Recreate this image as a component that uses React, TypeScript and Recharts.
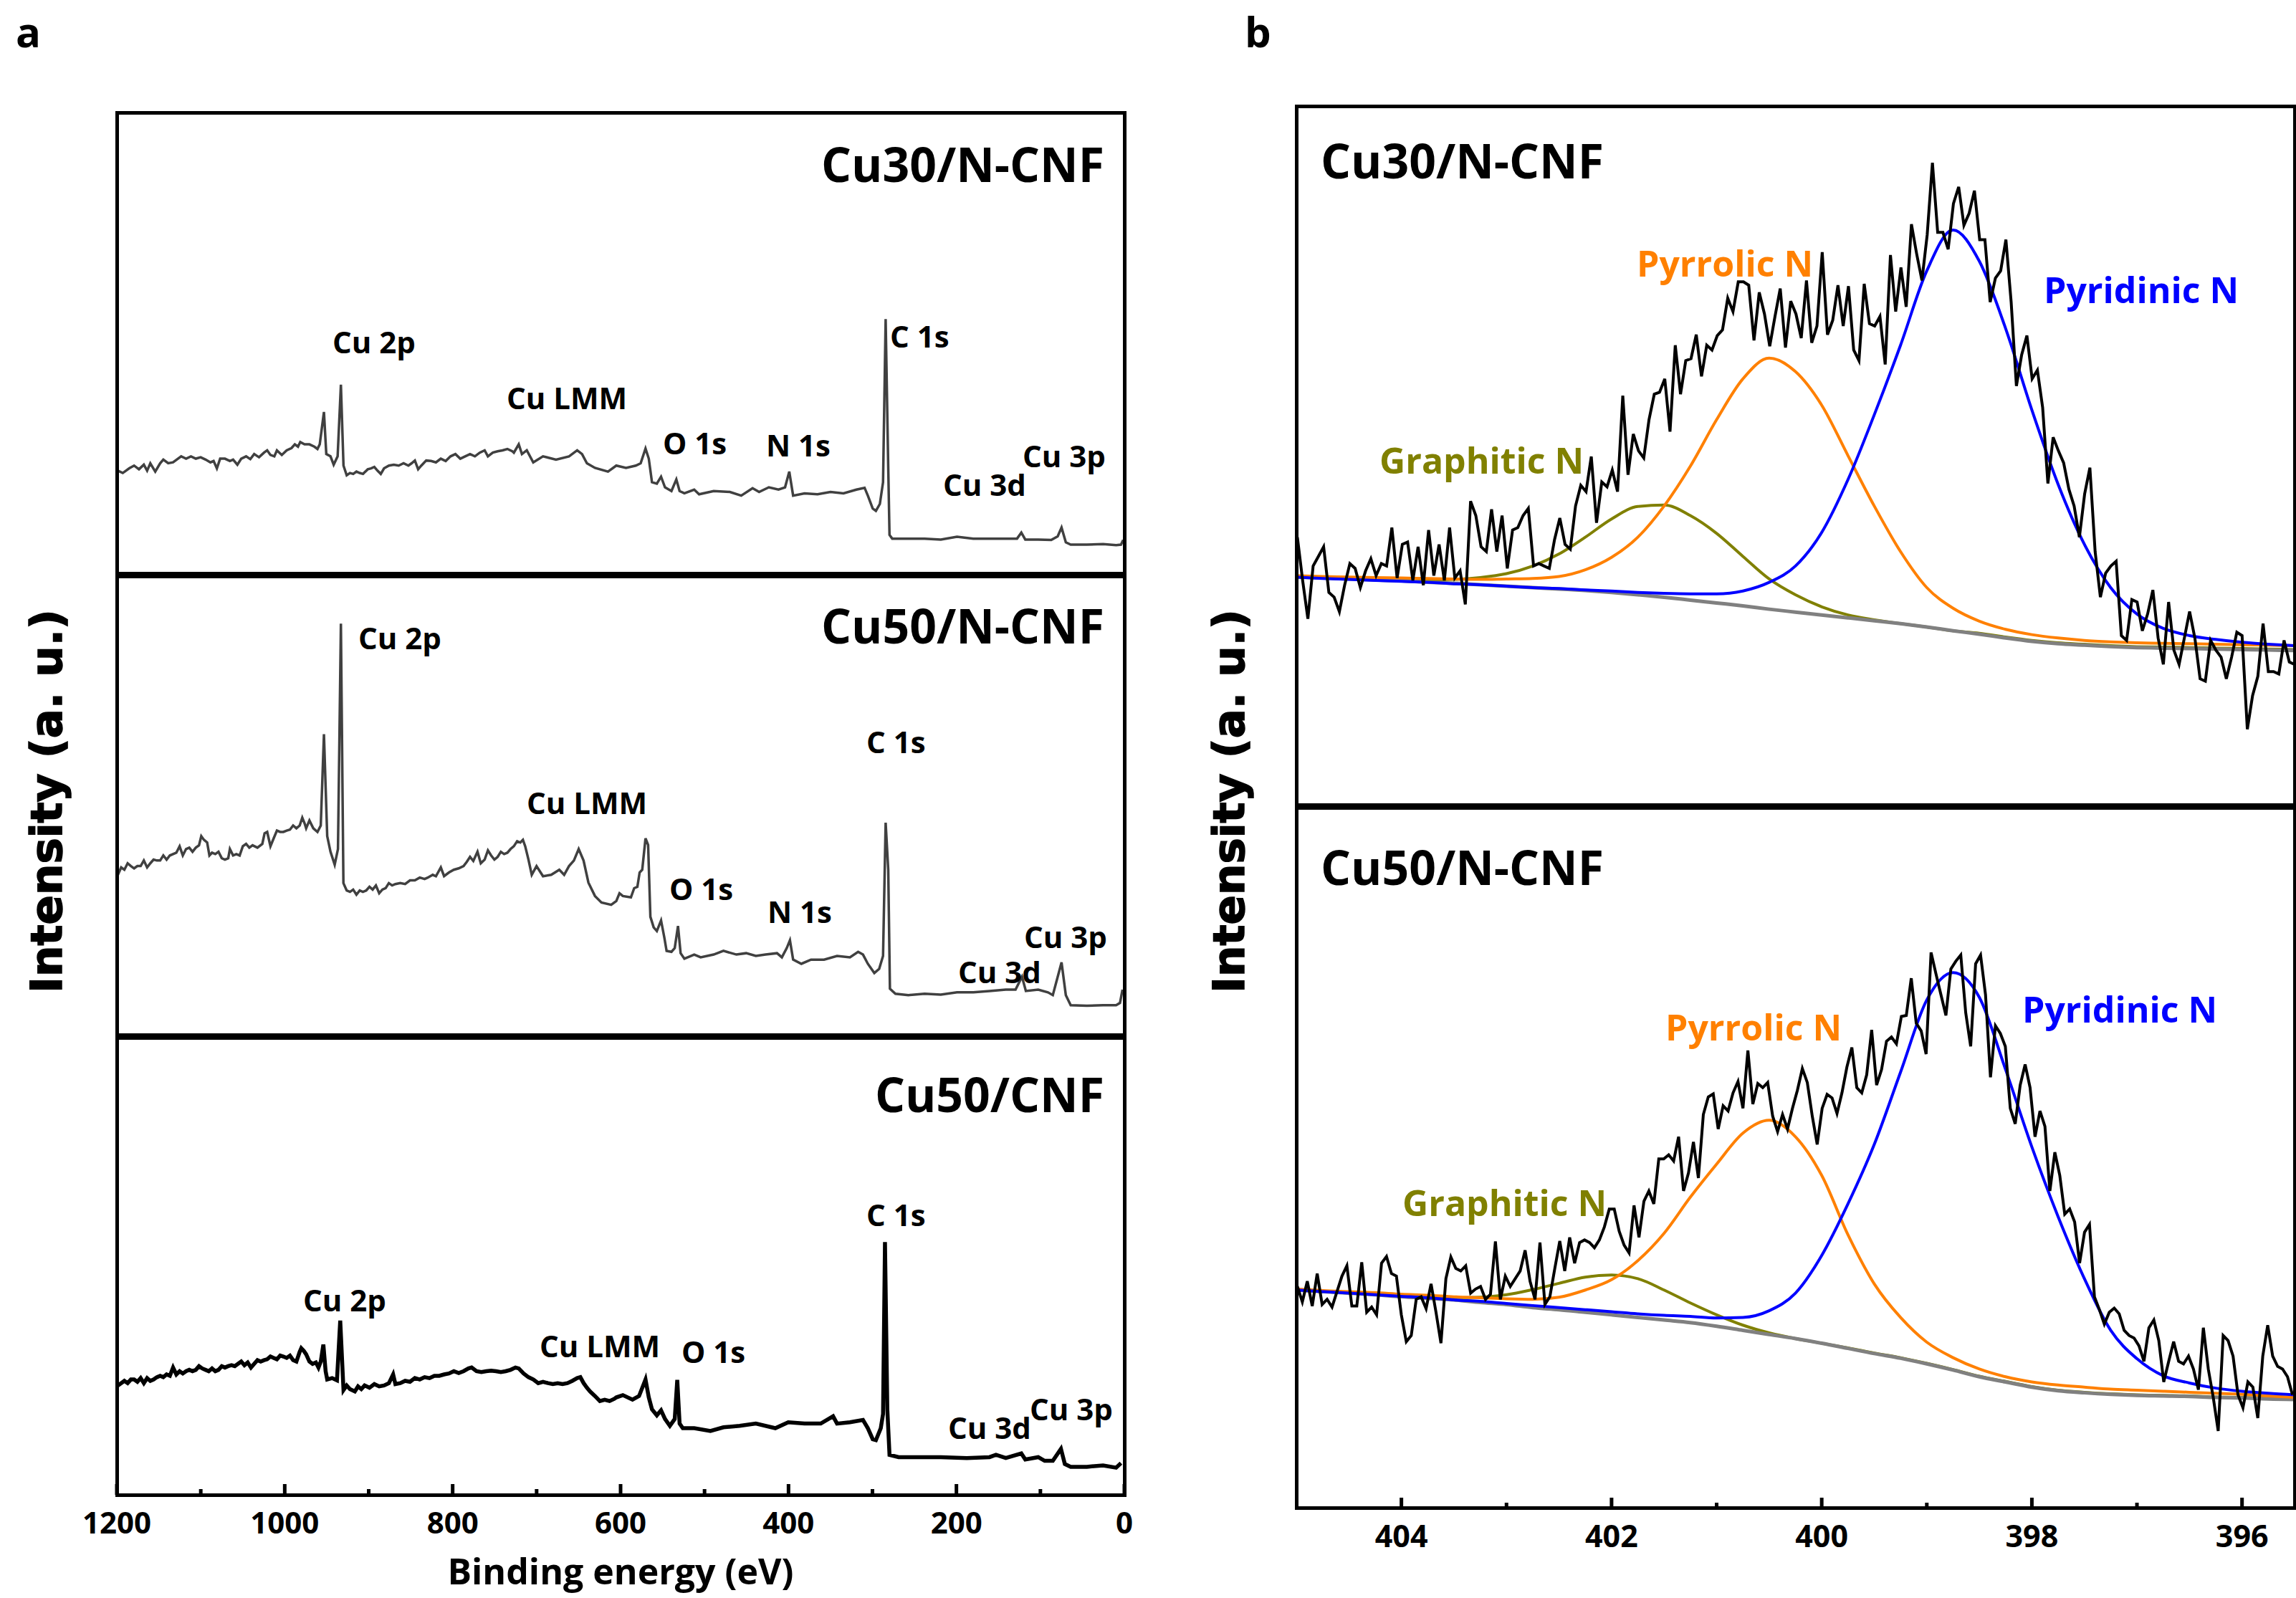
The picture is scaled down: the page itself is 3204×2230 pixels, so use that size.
import React from 'react';
import { LineChart, Line, XAxis, YAxis } from 'recharts';

const SANS = '"Open Sans", "Noto Sans", sans-serif';
const HEAVY = '"DejaVu Sans", sans-serif';

// ---------- panel a : XPS survey spectra, [binding energy (eV), intensity (a.u.)]
const CU30_NCNF_SURVEY: [number, number][] = [
  [1198.7, 22.5], [1192.9, 22.0], [1185.2, 23.0], [1179.4, 23.6], [1173.6, 22.8], [1167.8, 23.8], [1163.9, 22.5],
  [1160.1, 24.1], [1154.2, 22.3], [1148.4, 24.1], [1144.6, 24.9], [1138.8, 24.1], [1133.0, 24.3], [1127.2, 25.1],
  [1123.3, 25.6], [1117.5, 25.1], [1111.7, 25.6], [1105.9, 25.1], [1100.1, 25.4], [1094.3, 24.9], [1088.5, 24.3],
  [1084.7, 24.6], [1080.8, 23.0], [1076.9, 25.1], [1071.2, 25.1], [1065.3, 24.6], [1061.5, 24.9], [1056.4, 23.8],
  [1051.8, 25.1], [1046.0, 25.6], [1041.0, 25.0], [1036.4, 26.1], [1030.6, 25.4], [1024.7, 26.4], [1020.9, 26.9],
  [1017.0, 25.9], [1012.4, 25.6], [1009.3, 26.9], [1003.5, 25.9], [997.7, 26.9], [991.9, 27.4], [988.0, 28.2],
  [984.2, 27.7], [981.5, 28.7], [976.4, 28.2], [970.6, 28.2], [964.8, 27.7], [961.0, 27.2], [958.3, 28.2],
  [953.3, 35.2], [950.5, 26.1], [945.5, 25.6], [941.7, 23.8], [937.0, 25.6], [933.1, 41.1], [930.0, 23.6],
  [926.2, 21.5], [922.3, 22.0], [918.4, 21.8], [914.6, 22.3], [910.7, 22.0], [906.8, 21.8], [901.1, 22.8],
  [897.2, 23.0], [893.3, 23.3], [889.5, 22.5], [885.6, 21.8], [881.7, 23.0], [875.9, 23.6], [870.1, 23.8],
  [864.3, 23.6], [858.5, 24.1], [852.7, 23.6], [848.9, 24.1], [845.0, 24.7], [841.1, 22.8], [837.3, 23.6],
  [831.5, 24.7], [825.7, 24.6], [819.9, 24.3], [814.1, 25.1], [808.3, 24.6], [802.5, 25.6], [796.7, 26.1],
  [790.9, 25.1], [785.1, 25.6], [779.3, 26.1], [773.5, 25.6], [767.7, 26.4], [761.9, 26.9], [758.0, 25.6],
  [752.2, 26.4], [746.4, 26.7], [740.6, 26.9], [734.8, 27.2], [729.0, 26.7], [727.1, 26.4], [721.3, 28.2],
  [717.5, 26.1], [711.7, 26.9], [704.0, 24.3], [692.4, 25.6], [676.9, 24.9], [661.4, 25.6], [651.7, 26.9],
  [645.9, 26.1], [640.1, 24.1], [630.5, 23.1], [615.0, 22.3], [605.1, 23.6], [593.5, 23.1], [581.9, 23.6],
  [576.1, 24.1], [570.3, 27.3], [566.4, 25.1], [562.6, 20.0], [556.8, 19.7], [551.8, 21.2], [547.1, 18.9],
  [539.4, 18.1], [533.6, 20.6], [529.7, 18.1], [524.0, 17.6], [512.3, 18.4], [506.5, 17.4], [489.1, 18.1],
  [469.8, 17.9], [456.3, 17.1], [442.8, 18.7], [435.0, 17.9], [423.4, 18.9], [411.9, 18.4], [404.1, 18.9],
  [399.1, 22.3], [394.5, 17.1], [380.9, 17.6], [365.4, 17.4], [350.0, 17.9], [334.5, 17.6], [319.1, 18.4],
  [309.4, 18.8], [305.5, 17.1], [299.7, 14.3], [295.9, 13.8], [291.2, 15.3], [287.4, 20.0], [284.3, 55.3],
  [281.2, 23.1], [279.7, 8.6], [276.5, 7.8], [257.2, 7.8], [237.9, 7.8], [218.6, 7.6], [199.3, 8.2],
  [179.9, 7.8], [160.6, 7.8], [141.2, 7.8], [127.8, 7.8], [122.7, 9.1], [118.0, 7.6], [102.6, 7.6],
  [87.1, 7.5], [79.4, 8.3], [74.8, 10.2], [69.7, 7.0], [63.9, 6.5], [44.6, 6.5], [25.3, 6.6], [9.8, 6.4],
  [4.0, 6.5], [1.4, 7.5],
];

const CU50_NCNF_SURVEY: [number, number][] = [
  [1198.7, 34.9], [1194.8, 36.5], [1191.0, 36.0], [1187.1, 37.4], [1183.2, 36.8], [1179.4, 36.3], [1175.5, 36.8],
  [1171.6, 36.8], [1167.8, 38.0], [1163.9, 36.5], [1160.1, 37.4], [1156.2, 38.2], [1152.3, 38.0], [1148.4, 38.0],
  [1144.6, 39.1], [1140.7, 38.2], [1136.8, 39.1], [1133.0, 39.4], [1129.1, 39.7], [1125.2, 41.1], [1121.4, 39.1],
  [1117.5, 40.5], [1113.7, 40.8], [1109.8, 39.9], [1105.9, 40.8], [1102.1, 41.3], [1099.4, 43.3], [1096.3, 42.5],
  [1092.4, 41.9], [1089.7, 39.1], [1086.6, 39.7], [1082.7, 39.4], [1078.9, 39.9], [1075.0, 38.5], [1071.2, 38.2],
  [1067.3, 38.5], [1065.3, 40.5], [1061.5, 39.1], [1057.6, 39.4], [1053.7, 39.1], [1049.9, 41.1], [1046.0, 41.6],
  [1042.2, 40.8], [1038.3, 41.3], [1032.5, 40.8], [1026.7, 41.6], [1024.0, 43.9], [1020.9, 44.2], [1017.0, 41.1],
  [1013.2, 42.8], [1009.3, 44.5], [1005.4, 44.2], [1001.6, 44.2], [997.7, 44.5], [993.8, 44.7], [990.0, 45.6],
  [986.1, 45.0], [982.2, 45.6], [979.1, 47.3], [976.4, 46.1], [974.5, 45.0], [970.6, 46.7], [966.0, 45.0],
  [961.0, 44.2], [957.1, 45.6], [953.3, 65.4], [949.4, 43.3], [945.5, 39.9], [940.5, 37.1], [936.6, 40.5],
  [933.1, 89.4], [930.1, 33.1], [926.2, 31.5], [922.3, 31.2], [918.5, 31.7], [914.6, 30.6], [910.7, 31.5],
  [906.9, 31.2], [903.0, 31.5], [899.1, 32.3], [895.3, 31.7], [891.4, 32.6], [887.5, 30.9], [883.7, 31.7],
  [879.8, 32.0], [876.0, 33.1], [872.1, 32.6], [868.2, 32.9], [862.4, 33.1], [856.6, 32.9], [850.8, 33.7],
  [845.0, 33.7], [839.2, 34.3], [833.4, 34.0], [829.6, 34.3], [823.7, 34.9], [819.9, 34.6], [814.1, 36.5],
  [810.2, 34.6], [804.4, 35.4], [798.6, 36.0], [792.8, 36.3], [787.0, 36.8], [783.2, 37.7], [779.3, 38.8],
  [775.4, 37.9], [770.4, 39.9], [766.5, 37.4], [761.9, 38.2], [758.0, 40.2], [754.2, 39.1], [750.3, 38.2],
  [746.4, 38.8], [742.6, 39.9], [738.7, 39.4], [734.8, 39.7], [731.0, 40.5], [727.1, 41.1], [723.2, 42.2],
  [719.4, 41.9], [716.3, 42.5], [713.6, 41.1], [709.7, 38.2], [705.8, 34.9], [700.1, 36.8], [692.4, 34.6],
  [682.6, 34.9], [673.0, 36.0], [667.2, 34.9], [661.4, 36.8], [655.6, 38.0], [649.9, 40.5], [644.1, 38.0],
  [638.3, 33.2], [630.5, 30.3], [622.8, 28.9], [611.2, 28.4], [605.1, 29.2], [601.3, 30.9], [597.3, 30.3],
  [587.7, 30.0], [583.8, 32.0], [580.0, 32.3], [577.3, 35.4], [574.2, 36.0], [570.3, 42.8], [567.2, 41.4],
  [564.5, 25.8], [560.6, 23.5], [556.8, 22.7], [551.8, 25.0], [547.9, 21.3], [545.2, 18.4], [539.4, 18.2],
  [535.5, 19.0], [531.6, 23.8], [528.5, 17.9], [524.0, 16.7], [512.3, 17.6], [504.6, 17.0], [489.1, 17.6],
  [477.5, 18.4], [462.0, 17.6], [450.4, 17.9], [438.9, 17.3], [427.3, 17.6], [413.7, 17.9], [407.9, 17.0],
  [402.1, 19.0], [398.3, 20.7], [394.5, 16.5], [384.7, 15.6], [373.2, 16.5], [357.7, 16.5], [342.2, 17.3],
  [326.8, 17.0], [317.1, 18.2], [311.3, 17.6], [305.5, 15.6], [297.8, 13.6], [292.0, 14.5], [287.4, 17.3],
  [284.3, 46.2], [281.2, 36.0], [279.2, 10.2], [272.7, 9.1], [257.2, 8.8], [237.9, 9.1], [218.6, 8.9],
  [199.3, 9.4], [179.9, 9.4], [160.6, 9.7], [141.2, 10.0], [129.6, 10.0], [121.9, 12.8], [117.3, 9.7],
  [102.6, 10.0], [91.0, 9.4], [85.2, 8.8], [74.8, 15.9], [69.7, 8.8], [63.9, 6.6], [44.6, 6.5], [25.3, 6.6],
  [9.8, 6.6], [5.2, 7.1], [2.2, 10.0],
];

const CU50_CNF_SURVEY: [number, number][] = [
  [1198.7, 23.8], [1194.8, 24.3], [1191.0, 24.8], [1187.1, 24.3], [1183.2, 25.1], [1179.4, 25.1], [1175.5, 24.6],
  [1171.6, 25.4], [1167.8, 24.3], [1163.9, 25.4], [1160.1, 24.8], [1156.2, 25.1], [1152.3, 25.6], [1148.4, 25.9],
  [1144.6, 25.6], [1140.7, 26.2], [1136.8, 25.9], [1133.0, 27.7], [1129.1, 26.2], [1125.2, 26.9], [1121.4, 26.4],
  [1117.5, 26.9], [1113.7, 27.2], [1109.8, 26.9], [1105.9, 27.2], [1102.1, 28.0], [1098.2, 27.5], [1094.3, 27.2],
  [1090.5, 26.9], [1086.6, 27.5], [1082.7, 26.9], [1078.9, 27.2], [1075.0, 28.0], [1071.2, 27.7], [1067.3, 28.0],
  [1063.4, 28.2], [1059.5, 28.0], [1055.7, 28.5], [1051.8, 29.0], [1048.0, 28.2], [1044.1, 28.8], [1040.2, 27.7],
  [1036.4, 28.5], [1032.5, 29.3], [1028.6, 29.0], [1024.7, 29.3], [1020.9, 29.5], [1017.0, 30.1], [1013.2, 29.8],
  [1009.3, 29.5], [1005.4, 30.3], [1001.6, 30.1], [997.7, 29.8], [993.8, 30.3], [990.0, 29.3], [986.1, 29.0],
  [982.2, 31.1], [980.3, 31.9], [977.2, 31.3], [974.5, 30.6], [970.6, 29.0], [966.8, 28.5], [962.9, 28.8],
  [959.8, 27.7], [957.1, 29.0], [954.0, 32.7], [951.3, 26.9], [949.4, 25.1], [943.6, 25.4], [937.8, 24.9],
  [933.9, 37.9], [930.0, 22.8], [926.2, 23.8], [922.3, 23.0], [916.5, 22.5], [912.7, 23.6], [908.8, 23.0],
  [904.9, 23.8], [899.1, 23.3], [893.3, 24.1], [887.5, 23.6], [881.7, 23.8], [875.9, 24.3], [870.9, 26.2],
  [868.2, 24.1], [862.4, 24.3], [856.6, 24.8], [850.8, 24.6], [845.0, 25.4], [839.2, 25.1], [833.4, 25.6],
  [827.6, 25.4], [821.8, 25.9], [816.0, 25.9], [810.2, 26.2], [804.4, 26.4], [798.6, 26.9], [792.8, 26.5],
  [787.0, 26.9], [781.2, 27.5], [777.4, 27.7], [771.6, 26.9], [765.8, 26.7], [760.0, 26.9], [754.2, 27.0],
  [748.4, 26.9], [742.6, 26.7], [736.8, 26.9], [731.0, 27.2], [725.2, 27.7], [721.3, 27.5], [715.5, 26.4],
  [709.7, 25.6], [703.9, 25.1], [698.1, 24.3], [692.3, 24.6], [686.5, 24.3], [680.7, 24.1], [674.9, 24.3],
  [669.1, 24.1], [663.3, 24.3], [657.5, 24.8], [651.7, 25.4], [647.9, 25.6], [644.0, 24.3], [640.1, 23.3],
  [636.3, 22.5], [630.5, 21.5], [624.7, 20.4], [618.9, 20.7], [613.1, 20.4], [607.3, 20.9], [605.1, 21.2],
  [597.3, 21.7], [585.8, 20.7], [578.0, 21.5], [570.3, 25.1], [566.4, 21.2], [562.6, 18.6], [556.8, 17.3],
  [551.8, 18.4], [547.1, 16.5], [541.3, 15.0], [535.5, 16.5], [532.5, 25.0], [529.7, 15.5], [525.9, 14.5],
  [512.3, 14.5], [493.0, 13.9], [477.5, 14.7], [458.2, 15.0], [438.9, 15.5], [415.7, 14.5], [400.3, 15.8],
  [380.9, 15.5], [361.6, 15.5], [346.9, 17.1], [342.2, 15.5], [326.8, 15.8], [311.3, 16.3], [305.5, 14.5],
  [299.7, 12.1], [295.9, 11.9], [290.1, 14.5], [287.4, 17.6], [285.1, 55.0], [282.3, 18.6], [279.7, 8.7],
  [268.8, 8.2], [249.5, 8.2], [218.6, 8.2], [187.7, 8.0], [160.6, 8.2], [152.9, 8.7], [141.2, 8.0],
  [122.7, 9.0], [118.0, 7.7], [102.6, 8.2], [94.9, 7.4], [85.2, 7.4], [75.5, 10.0], [70.9, 6.7], [63.9, 6.1],
  [44.6, 6.1], [25.3, 6.4], [9.8, 5.9], [4.0, 6.9],
];

const SURVEY_TICKS = [1200, 1100, 1000, 900, 800, 700, 600, 500, 400, 300, 200, 100, 0];

// ---------- panel b : N 1s high-resolution spectra
// raw scans, evenly spaced from first to last energy
const CU30_N1S_RANGE: [number, number] = [404.99, 395.5];
const CU30_N1S_RAW = [
  598, 508, 428, 538, 558, 578, 483, 473, 443, 498, 543, 533, 493, 528, 553, 518, 543, 538, 618, 513,
  583, 588, 508, 578, 498, 613, 518, 583, 508, 618, 513, 528, 458, 673, 643, 578, 568, 656, 568, 643,
  533, 613, 618, 643, 658, 538, 543, 538, 533, 593, 638, 583, 573, 663, 706, 693, 766, 628, 713, 703,
  738, 693, 893, 728, 813, 778, 763, 843, 896, 900, 928, 818, 998, 896, 966, 970, 1020, 933, 998, 988,
  1018, 1030, 1096, 1068, 1130, 1130, 1123, 1008, 1108, 1063, 996, 1058, 1116, 993, 1090, 1063, 1013, 1133, 1003, 1038,
  1192, 1020, 1050, 1123, 1038, 1121, 988, 966, 1126, 1043, 1038, 1058, 958, 1186, 1068, 1160, 1078, 1250, 1188, 1133,
  1228, 1378, 1233, 1233, 1198, 1293, 1328, 1248, 1273, 1320, 1218, 1218, 1088, 1138, 1153, 1218, 1088, 913, 978, 1018,
  928, 946, 868, 710, 806, 778, 753, 698, 663, 598, 688, 743, 568, 473, 523, 538, 548, 393, 383, 468,
  463, 403, 438, 488, 388, 333, 463, 363, 333, 388, 443, 388, 303, 298, 383, 363, 348, 303, 348, 400,
  393, 198, 268, 308, 418, 318, 318, 313, 383, 338, 333,
];

const CU50_N1S_RANGE: [number, number] = [404.99, 395.52];
const CU50_N1S_RAW = [
  603, 573, 613, 565, 628, 568, 578, 563, 593, 623, 643, 565, 565, 650, 553, 563, 548, 648, 661, 628,
  623, 548, 496, 508, 578, 583, 560, 608, 553, 493, 618, 660, 638, 633, 643, 590, 598, 603, 578, 588,
  690, 578, 623, 603, 618, 633, 673, 613, 578, 688, 568, 583, 638, 691, 633, 698, 648, 688, 693, 688,
  678, 693, 718, 753, 753, 710, 683, 668, 760, 698, 768, 788, 763, 850, 850, 858, 846, 893, 788, 823,
  883, 813, 936, 970, 976, 908, 953, 943, 978, 1000, 948, 1060, 956, 996, 988, 998, 933, 903, 936, 908,
  948, 983, 1025, 998, 933, 878, 948, 975, 968, 938, 978, 1028, 1066, 988, 978, 1013, 1100, 993, 1023, 1078,
  1086, 1073, 1126, 1128, 1200, 1113, 1098, 1053, 1250, 1208, 1168, 1128, 1218, 1233, 1245, 1133, 1068, 1228, 1245, 1168,
  1008, 1108, 1093, 1068, 948, 918, 993, 1033, 988, 893, 943, 913, 788, 863, 818, 743, 753, 728, 648, 708,
  723, 583, 558, 530, 553, 561, 550, 518, 508, 503, 488, 458, 523, 538, 498, 418, 458, 496, 458, 453,
  468, 443, 403, 523, 443, 388, 323, 508, 498, 468, 393, 368, 418, 408, 348, 468, 528, 468, 448, 443,
  428, 393,
];

// fitted components on a 0.25 eV grid
const FIT_EV = [
  405, 404.75, 404.5, 404.25, 404, 403.75, 403.5, 403.25, 403, 402.75, 402.5, 402.25, 402,
  401.75, 401.5, 401.25, 401, 400.75, 400.5, 400.25, 400, 399.75, 399.5, 399.25, 399, 398.75,
  398.5, 398.25, 398, 397.75, 397.5, 397.25, 397, 396.75, 396.5, 396.25, 396, 395.75, 395.5,
];

const CU30_BACKGROUND = [515, 513, 511, 509, 507, 504, 502, 499, 496, 493, 490, 487, 483, 478, 473, 467, 461, 455, 448, 442, 436, 430, 424, 418, 411, 403, 396, 388, 381, 376, 373, 370, 368, 367, 366, 365, 364, 363, 362];
const CU30_GRAPHITIC = [515, 513, 511, 510, 509, 509, 510, 514, 522, 538, 563, 598, 636, 662, 665, 643, 606, 558, 511, 478, 453, 436, 426, 418, 411, 403, 398, 390, 383, 378, 375, 372, 370, 369, 368, 367, 366, 365, 364];
const CU30_PYRROLIC = [518, 516, 515, 514, 513, 512, 511, 510, 511, 512, 516, 530, 556, 598, 663, 746, 843, 928, 971, 943, 873, 768, 663, 568, 493, 450, 423, 406, 395, 388, 383, 380, 378, 377, 376, 375, 374, 373, 372];
const CU30_PYRIDINIC = [515, 512, 510, 508, 506, 504, 501, 499, 496, 493, 491, 488, 486, 483, 481, 480, 480, 486, 504, 538, 608, 718, 853, 998, 1153, 1238, 1173, 1033, 863, 708, 583, 493, 438, 408, 393, 385, 379, 375, 372];

const CU50_BACKGROUND = [596, 593, 590, 587, 583, 580, 577, 572, 568, 562, 558, 553, 548, 543, 538, 533, 526, 518, 510, 502, 493, 483, 473, 464, 453, 441, 428, 418, 408, 401, 397, 394, 392, 391, 390, 388, 387, 385, 384];
const CU50_GRAPHITIC = [596, 593, 590, 587, 584, 582, 581, 582, 587, 597, 609, 621, 625, 618, 596, 571, 548, 528, 513, 502, 493, 484, 474, 465, 454, 442, 429, 419, 409, 402, 398, 395, 393, 392, 391, 389, 388, 386, 385];
const CU50_PYRROLIC = [598, 595, 593, 591, 588, 586, 583, 581, 579, 578, 582, 596, 616, 653, 706, 776, 840, 900, 925, 893, 818, 703, 608, 543, 495, 465, 443, 428, 418, 412, 408, 404, 402, 400, 398, 396, 394, 391, 388];
const CU50_PYRIDINIC = [596, 593, 590, 587, 584, 581, 577, 574, 570, 566, 562, 558, 554, 550, 547, 545, 542, 543, 556, 590, 663, 763, 878, 1018, 1158, 1211, 1163, 1023, 873, 738, 618, 518, 463, 430, 416, 406, 400, 396, 393];

const N1S_TICKS = [404, 403, 402, 401, 400, 399, 398, 397, 396];

// ---------- helpers
const toPoints = (rows: [number, number][]) => rows.map(([e, v]) => ({ e, v }));
const spread = ([start, end]: [number, number], vals: number[]) =>
  vals.map((v, i) => ({ e: start - (i * (start - end)) / (vals.length - 1), v }));
const onFitGrid = (vals: number[]) => vals.map((v, i) => ({ e: FIT_EV[i], v }));

const FRAME_W = 5;
const PAD = 12;
const PAD_L = 60;
const OLIVE = '#808000';
const ORANGE = '#FF8000';
const BLUE = '#0000FF';
const GRAY = '#808080';

const surveyTick = (props: any) => {
  const { x, y, payload } = props;
  const major = payload.value % 200 === 0;
  return (
    <g>
      <line x1={x} x2={x} y1={y} y2={y - (major ? 15 : 8)} stroke="#000" strokeWidth={5} />
      {major && (
        <text x={x} y={y + 54} textAnchor="middle" fontFamily={SANS} fontWeight={700} fontSize={42} fill="#000">
          {payload.value}
        </text>
      )}
    </g>
  );
};

const n1sTick = (props: any) => {
  const { x, y, payload } = props;
  const major = payload.value % 2 === 0;
  return (
    <g>
      <line x1={x} x2={x} y1={y} y2={y - (major ? 14 : 7)} stroke="#000" strokeWidth={5} />
      {major && (
        <text x={x} y={y + 55} textAnchor="middle" fontFamily={SANS} fontWeight={700} fontSize={43} fill="#000">
          {payload.value}
        </text>
      )}
    </g>
  );
};

// frame box drawn centred on the plot edges
function Frame({ left, top, width, height }: any) {
  return (
    <div
      style={{
        position: 'absolute',
        left: left - FRAME_W / 2,
        top: top - FRAME_W / 2,
        width: width + FRAME_W,
        height: height + FRAME_W,
        boxSizing: 'border-box',
        border: `${FRAME_W}px solid #000`,
        pointerEvents: 'none',
      }}
    />
  );
}

// survey sub-panel (panel a)
const A_LEFT = 163;
const A_WIDTH = 1406;

function SurveyPanel({ rows, top, height, domain, color, strokeWidth, axis }: any) {
  const axisH = axis ? 90 : 0;
  return (
    <>
      <div style={{ position: 'absolute', left: A_LEFT - PAD_L, top: top - PAD }}>
        <LineChart
          width={A_WIDTH + PAD_L + PAD}
          height={height + 2 * PAD + axisH}
          margin={{ top: PAD, right: PAD, bottom: PAD, left: PAD_L }}
        >
          <XAxis
            dataKey="e"
            type="number"
            domain={[0, 1200]}
            reversed
            allowDataOverflow
            height={axisH}
            hide={!axis}
            ticks={SURVEY_TICKS}
            interval={0}
            tickSize={0}
            tickMargin={0}
            tickLine={false}
            axisLine={false}
            tick={surveyTick}
          />
          <YAxis type="number" domain={domain} allowDataOverflow hide />
          <Line data={toPoints(rows)} dataKey="v" type="linear" stroke={color} strokeWidth={strokeWidth}
            dot={false} isAnimationActive={false} />
        </LineChart>
      </div>
      <Frame left={A_LEFT} top={top} width={A_WIDTH} height={height} />
    </>
  );
}

// N 1s sub-panel (panel b)
const B_LEFT = 1809;
const B_WIDTH = 1393;

function N1sPanel({ raw, bg, graphitic, pyrrolic, pyridinic, top, height, domain, axis }: any) {
  const axisH = axis ? 90 : 0;
  const series = [
    { d: graphitic, c: OLIVE, w: 4 },
    { d: bg, c: GRAY, w: 5 },
    { d: pyrrolic, c: ORANGE, w: 4 },
    { d: pyridinic, c: BLUE, w: 4 },
  ];
  return (
    <>
      <div style={{ position: 'absolute', left: B_LEFT - PAD_L, top: top - PAD }}>
        <LineChart
          width={B_WIDTH + PAD_L + 2}
          height={height + 2 * PAD + axisH}
          margin={{ top: PAD, right: 2, bottom: PAD, left: PAD_L }}
        >
          <XAxis
            dataKey="e"
            type="number"
            domain={[395.5, 405]}
            reversed
            allowDataOverflow
            height={axisH}
            hide={!axis}
            ticks={N1S_TICKS}
            interval={0}
            tickSize={0}
            tickMargin={0}
            tickLine={false}
            axisLine={false}
            tick={n1sTick}
          />
          <YAxis type="number" domain={domain} allowDataOverflow hide />
          {series.map((s, i) => (
            <Line key={i} data={onFitGrid(s.d)} dataKey="v" type="monotone" stroke={s.c} strokeWidth={s.w}
              dot={false} isAnimationActive={false} />
          ))}
          <Line data={raw} dataKey="v" type="linear" stroke="#000" strokeWidth={4} dot={false} isAnimationActive={false} />
        </LineChart>
      </div>
      <Frame left={B_LEFT} top={top} width={B_WIDTH} height={height} />
    </>
  );
}

// text placed by left (or right) edge and cap-height centre
function Label({ text, x, cy, size, color = '#000', anchor = 'start' }: any) {
  return (
    <div
      style={{
        position: 'absolute',
        left: x,
        top: cy - 0.531 * size,
        transform: anchor === 'end' ? 'translateX(-100%)' : undefined,
        fontFamily: SANS,
        fontWeight: 700,
        fontSize: size,
        lineHeight: 1,
        color,
        whiteSpace: 'nowrap',
      }}
    >
      {text}
    </div>
  );
}

function YTitle({ cx, cy }: any) {
  return (
    <div
      style={{
        position: 'absolute',
        left: cx,
        top: cy,
        transform: 'translate(-50%, -50%) rotate(-90deg)',
        fontFamily: HEAVY,
        fontWeight: 700,
        fontSize: 61,
        lineHeight: 1,
        whiteSpace: 'nowrap',
        WebkitTextStroke: '1.5px #000',
      }}
    >
      Intensity (a. u.)
    </div>
  );
}

const PEAK_LABELS = [
  // Cu30/N-CNF
  { t: 'Cu 2p', x: 464, cy: 478 }, { t: 'Cu LMM', x: 707, cy: 556 }, { t: 'O 1s', x: 925, cy: 619 },
  { t: 'N 1s', x: 1069, cy: 622 }, { t: 'C 1s', x: 1242, cy: 470 }, { t: 'Cu 3d', x: 1316, cy: 677 },
  { t: 'Cu 3p', x: 1427, cy: 637 },
  // Cu50/N-CNF
  { t: 'Cu 2p', x: 500, cy: 891 }, { t: 'Cu LMM', x: 735, cy: 1121 }, { t: 'O 1s', x: 934, cy: 1241 },
  { t: 'N 1s', x: 1071, cy: 1273 }, { t: 'C 1s', x: 1209, cy: 1036 }, { t: 'Cu 3d', x: 1337, cy: 1357 },
  { t: 'Cu 3p', x: 1429, cy: 1308 },
  // Cu50/CNF
  { t: 'Cu 2p', x: 423, cy: 1815 }, { t: 'Cu LMM', x: 753, cy: 1879 }, { t: 'O 1s', x: 951, cy: 1887 },
  { t: 'C 1s', x: 1209, cy: 1696 }, { t: 'Cu 3d', x: 1323, cy: 1993 }, { t: 'Cu 3p', x: 1437, cy: 1967 },
];

const N_LABELS = [
  { t: 'Pyrrolic N', x: 2284, cy: 369, c: ORANGE }, { t: 'Pyridinic N', x: 2852, cy: 406, c: BLUE },
  { t: 'Graphitic N', x: 1925, cy: 644, c: OLIVE },
  { t: 'Pyrrolic N', x: 2324, cy: 1435, c: ORANGE }, { t: 'Pyridinic N', x: 2822, cy: 1410, c: BLUE },
  { t: 'Graphitic N', x: 1957, cy: 1680, c: OLIVE },
];

export default function App() {
  return (
    <div style={{ position: 'absolute', left: 0, top: 0, width: 3204, height: 2230, overflow: 'hidden', background: '#fff' }}>
      <Label text="a" x={22} cy={46} size={58} />
      <Label text="b" x={1737} cy={46} size={58} />

      <SurveyPanel rows={CU30_NCNF_SURVEY} top={157} height={643} domain={[0.3, 100]} color="#404040" strokeWidth={3.5} />
      <SurveyPanel rows={CU50_NCNF_SURVEY} top={804} height={640} domain={[0.2, 99.7]} color="#404040" strokeWidth={3.5} />
      <SurveyPanel rows={CU50_CNF_SURVEY} top={1448} height={638} domain={[0, 99.5]} color="#000" strokeWidth={5.5} axis />

      <N1sPanel raw={spread(CU30_N1S_RANGE, CU30_N1S_RAW)} bg={CU30_BACKGROUND} graphitic={CU30_GRAPHITIC}
        pyrrolic={CU30_PYRROLIC} pyridinic={CU30_PYRIDINIC} top={148} height={975} domain={[40.6, 1496.3]} />
      <N1sPanel raw={spread(CU50_N1S_RANGE, CU50_N1S_RAW)} bg={CU50_BACKGROUND} graphitic={CU50_GRAPHITIC}
        pyrrolic={CU50_PYRROLIC} pyridinic={CU50_PYRIDINIC} top={1127} height={977} domain={[174.4, 1530.5]} axis />

      <Label text="Cu30/N-CNF" x={1541} cy={230} size={66} anchor="end" />
      <Label text="Cu50/N-CNF" x={1541} cy={874} size={66} anchor="end" />
      <Label text="Cu50/CNF" x={1541} cy={1528} size={66} anchor="end" />
      <Label text="Cu30/N-CNF" x={1843} cy={225} size={66} />
      <Label text="Cu50/N-CNF" x={1843} cy={1211} size={66} />

      {PEAK_LABELS.map((l, i) => (
        <Label key={i} text={l.t} x={l.x} cy={l.cy} size={42} />
      ))}
      {N_LABELS.map((l, i) => (
        <Label key={i} text={l.t} x={l.x} cy={l.cy} size={50} color={l.c} />
      ))}

      <YTitle cx={64} cy={1118} />
      <YTitle cx={1714} cy={1118} />
      <div style={{ position: 'absolute', left: 866, top: 2194 - 0.531 * 50, transform: 'translateX(-50%)',
        fontFamily: SANS, fontWeight: 700, fontSize: 50, lineHeight: 1, whiteSpace: 'nowrap' }}>
        Binding energy (eV)
      </div>
    </div>
  );
}
